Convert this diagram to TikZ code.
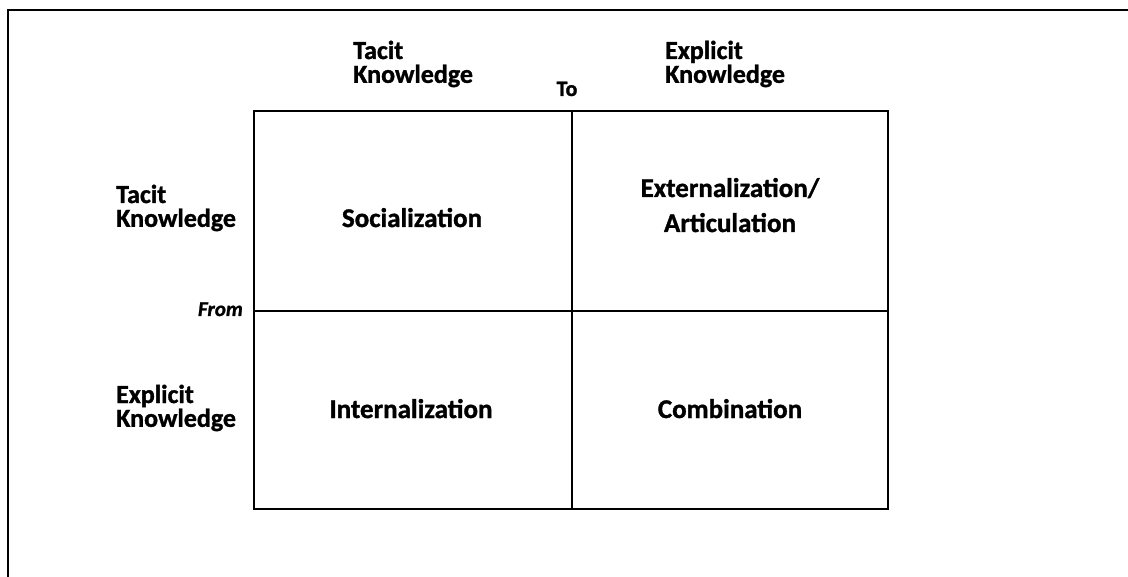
\documentclass[tikz,border=0pt]{standalone}
\usepackage{fontspec}
\setmainfont{Carlito}[BoldFeatures={FakeBold=1.2},BoldItalicFeatures={FakeBold=1.2}]
\begin{document}
\begin{tikzpicture}[x=1pt,y=-1pt,
  lab/.style={font=\fontsize{26}{22}\selectfont\bfseries, inner sep=0pt, anchor=base west},
  tolab/.style={font=\fontsize{22}{26}\selectfont\bfseries, inner sep=0pt, anchor=base},
  fromlab/.style={font=\fontsize{21}{25}\selectfont\bfseries\itshape, inner sep=0pt, anchor=base east},
  celltxt/.style={font=\fontsize{27}{35}\selectfont\bfseries, inner sep=0pt, anchor=base},
  gridline/.style={line width=2.2pt},
  frameline/.style={line width=2.4pt}]
\useasboundingbox (0,0) rectangle (1128,577);
% outer frame (top and left only)
\coordinate (fr) at (1128,10);
\coordinate (fc) at (8,10);
\coordinate (fb) at (8,577);
\draw[frameline] (fr) -- (fc) -- (fb);
% grid
\coordinate (gtl) at (254,111);
\coordinate (gbr) at (888,509);
\coordinate (gtm) at (572,111);
\coordinate (gbm) at (572,509);
\coordinate (gml) at (254,311);
\coordinate (gmr) at (888,311);
\draw[gridline] (gtl) rectangle (gbr);
\draw[gridline] (gtm) -- (gbm);
\draw[gridline] (gml) -- (gmr);
% column headings
\node[lab] (tacitcol) at (353,59) {\begin{tabular}[t]{@{}l@{}}Tacit\\[-1pt]Knowledge\end{tabular}};
\node[tolab] (to) at (567,96) {To};
\node[lab] (explicitcol) at (665,59) {\begin{tabular}[t]{@{}l@{}}Explicit\\[-1pt]Knowledge\end{tabular}};
% row headings
\node[lab] (tacitrow) at (116,203) {\begin{tabular}[t]{@{}l@{}}Tacit\\[-1pt]Knowledge\end{tabular}};
\node[fromlab] (from) at (243,316) {From};
\node[lab] (explicitrow) at (116,403) {\begin{tabular}[t]{@{}l@{}}Explicit\\[-1pt]Knowledge\end{tabular}};
% cells
\node[celltxt] (soc) at (412,227) {Socialization};
\node[celltxt] (ext) at (730,197) {\begin{tabular}[t]{@{}c@{}}Externalization/\\Articulation\end{tabular}};
\node[celltxt] (int) at (411,418) {Internalization};
\node[celltxt] (comb) at (730,418) {Combination};
\end{tikzpicture}
\end{document}
